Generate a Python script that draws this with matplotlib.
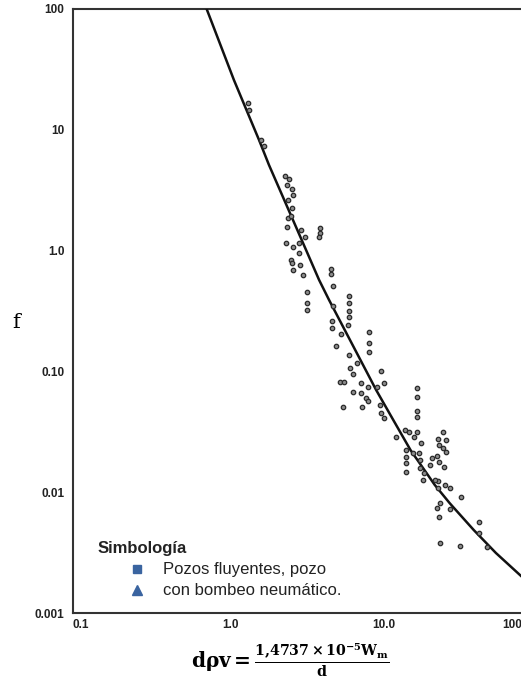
import matplotlib
matplotlib.use("Agg")
import matplotlib.pyplot as plt
import numpy as np

# datos de pozos
dpv = [1.47, 1.49, 1.80, 1.88, 2.61, 2.77, 2.69, 2.90, 2.95, 2.73, 2.90, 2.73, 2.86, 2.69,
       3.34, 3.55, 4.48, 4.48, 4.41, 2.65, 2.95, 3.24, 3.24, 2.86, 2.90, 3.29, 2.95, 3.44,
       5.31, 5.31, 5.47, 3.66, 7.01, 3.66, 3.66, 5.47, 7.01, 7.01, 7.01, 6.90, 5.39, 5.39,
       6.19, 5.73, 9.55, 9.55, 9.55, 7.01, 7.93, 7.11, 7.45, 11.5, 6.10, 6.49, 8.43, 9.40,
       12.0, 10.8, 7.45, 8.43, 9.12, 9.40, 6.38, 8.57, 11.3, 11.5, 12.0, 20.0, 20.0, 20.0,
       20.0, 16.6, 14.5, 20.0, 21.3, 29.5, 27.3, 30.9, 27.7, 29.5, 30.9, 16.9, 16.9, 16.9,
       16.9, 20.4, 20.7, 24.9, 26.9, 27.7, 30.0, 24.1, 20.7, 22.0, 21.7, 27.3, 30.4, 27.3,
       32.9, 39.0, 28.2, 26.9, 32.9, 27.7, 51.4, 51.4, 28.2, 38.4, 58.2, 17.5, 18.8, 19.1,
       26.1]
f_pozos = [16.7, 14.6, 8.24, 7.35, 4.15, 3.92, 3.49, 3.24, 2.89, 2.62, 2.25, 1.86, 1.93, 1.57,
           1.48, 1.30, 1.54, 1.40, 1.30, 1.16, 1.07, 1.16, 0.955, 0.836, 0.789, 0.760, 0.690, 0.628,
           0.705, 0.640, 0.509, 0.454, 0.421, 0.368, 0.322, 0.348, 0.368, 0.316, 0.282, 0.242, 0.261, 0.229,
           0.204, 0.162, 0.212, 0.172, 0.145, 0.137, 0.117, 0.107, 0.095, 0.101, 0.0817, 0.0817, 0.0802, 0.0743,
           0.0802, 0.0743, 0.0675, 0.0662, 0.0603, 0.0569, 0.0507, 0.0507, 0.0527, 0.0453, 0.0411, 0.0729, 0.0614, 0.0470,
           0.0420, 0.0327, 0.0286, 0.0315, 0.0255, 0.0315, 0.0275, 0.0270, 0.0246, 0.0232, 0.0215, 0.0223, 0.0196, 0.0175,
           0.0147, 0.0211, 0.0185, 0.0192, 0.0199, 0.0178, 0.0162, 0.0168, 0.0158, 0.0144, 0.0126, 0.0124, 0.0115, 0.0108,
           0.0108, 0.0091, 0.0081, 0.0074, 0.0073, 0.0062, 0.0057, 0.0046, 0.0038, 0.0036, 0.0035, 0.0315, 0.0211, 0.0286,
           0.0126]

# curva de correlacion
curva_x = [0.782, 1.19, 1.75, 2.04, 3.61, 4.41, 5.14, 10.6, 13.8, 18.0, 26.1, 32.9, 47.6, 66.9, 100]
curva_f = [100, 25.8, 8.24, 5.11, 1.01, 0.571, 0.390, 0.0702, 0.0396, 0.0223, 0.0115, 0.0081, 0.00486, 0.00314, 0.00199]

xticks = [0.1, 1, 10, 100]
xlabels = ["0.1", "1.0", "10.0", "100"]
yticks = [100, 10, 1, 0.1, 0.01, 0.001]
ylabels = ["100", "10", "1.0", "0.10", "0.01", "0.001"]

plt.rcParams['font.family'] = ['Liberation Sans', 'DejaVu Sans']

fig = plt.figure(figsize=(5.21, 6.86), dpi=100)
ax = fig.add_axes([0.140, 0.1064, 0.862, 0.8805])

ax.plot(curva_x, curva_f, color='#111111', lw=1.8, zorder=3)
ax.plot(dpv, f_pozos, linestyle='none', marker='o', ms=3.2,
        mfc='#8a8a8a', mec='#2a2a2a', mew=0.9, zorder=4)

ax.set_xscale('log')
ax.set_yscale('log')
ax.set_xlim(0.1, 100)
ax.set_ylim(0.001, 100)
ax.minorticks_off()
ax.set_xticks(xticks)
ax.set_xticklabels(xlabels, ha='left', fontsize=8.5, fontweight='bold', color='#222222')
ax.get_xticklabels()[-1].set_ha('right')
ax.set_yticks(yticks)
ax.set_yticklabels(ylabels, fontsize=8.5, fontweight='bold', color='#222222')
ax.tick_params(length=0, pad=6)
ax.tick_params(axis='x', pad=4)

for s in ['left', 'bottom', 'top']:
    ax.spines[s].set_linewidth(1.5)
    ax.spines[s].set_color('#333333')
ax.spines['right'].set_visible(False)

# leyenda
ax.text(0.054, 0.106, "Simbología", transform=ax.transAxes, fontsize=12,
        fontweight='bold', va='center', ha='left', color='#222222')
ax.plot([0.143], [0.0728], transform=ax.transAxes, marker='s', ms=6,
        color='#3a64a0', clip_on=False)
ax.plot([0.143], [0.038], transform=ax.transAxes, marker='^', ms=7,
        color='#3a64a0', clip_on=False)
ax.text(0.201, 0.0728, "Pozos fluyentes, pozo", transform=ax.transAxes,
        fontsize=12, va='center', ha='left', color='#222222')
ax.text(0.201, 0.038, "con bombeo neumático.", transform=ax.transAxes,
        fontsize=12, va='center', ha='left', color='#222222')

plt.rcParams['mathtext.fontset'] = 'dejavuserif'
fig.text(16/521, 1 - 323/686, "f", fontsize=15, family='DejaVu Serif',
         ha='center', va='center')
fig.text(290/521, 1 - 660/686,
         r'$\mathbf{d\rho v = \frac{1{,}4737 \times 10^{-5} W_m}{d}}$',
         fontsize=14.5, ha='center', va='center')

fig.savefig("out.png", dpi=100)
